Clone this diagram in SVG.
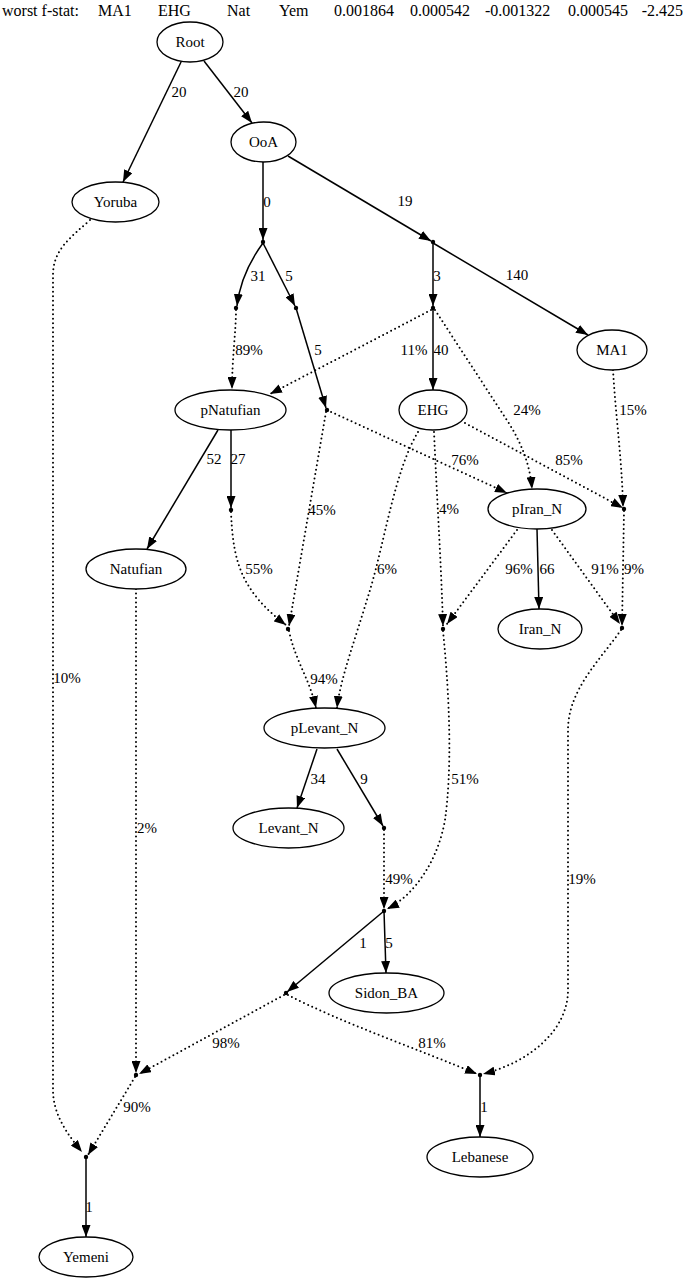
<svg xmlns="http://www.w3.org/2000/svg" width="685" height="1280" viewBox="0 0 685 1280" font-family="'Liberation Serif', 'Times New Roman', serif" font-size="15">
<defs>
<marker id="ah" viewBox="0 0 12 9" refX="12" refY="4.5" markerWidth="12" markerHeight="9" markerUnits="userSpaceOnUse" orient="auto">
<path d="M0,0 L12,4.5 L0,9 z" fill="#000" stroke="none"/>
</marker>
<style>
text{font-family:"Liberation Serif","Times New Roman",serif;font-size:15px;fill:#000}
.hd{font-size:16px}
.nl{text-anchor:middle}
.el{text-anchor:middle}
ellipse{fill:#fff;stroke:#000;stroke-width:1.3}
.pt{fill:#000;stroke:none}
.s{fill:none;stroke:#000;stroke-width:1.5;marker-end:url(#ah)}
.d{fill:none;stroke:#000;stroke-width:2;stroke-dasharray:0 4.5;stroke-linecap:round;marker-end:url(#ah)}
</style>
</defs>
<rect width="685" height="1280" fill="#fff"/>
<g id="header">
<text class="hd" x="2" y="16">worst f-stat:</text>
<text class="hd" x="98" y="16">MA1</text>
<text class="hd" x="158" y="16">EHG</text>
<text class="hd" x="227" y="16">Nat</text>
<text class="hd" x="279" y="16">Yem</text>
<text class="hd" x="334" y="16">0.001864</text>
<text class="hd" x="410" y="16">0.000542</text>
<text class="hd" x="485" y="16">-0.001322</text>
<text class="hd" x="568" y="16">0.000545</text>
<text class="hd" x="683" y="16" text-anchor="end">-2.425</text>
</g>
<g id="edges">
<path class="s" d="M182,60 L123,182"/>
<path class="s" d="M204,61 L252,123"/>
<path class="s" d="M263,162 L263,240"/>
<path class="s" d="M288,156 L431,241"/>
<path class="s" d="M433,243 L433,306"/>
<path class="s" d="M433,243 L588,335"/>
<path class="s" d="M263,243 C252,258 240,280 237,306"/>
<path class="s" d="M263,243 L295,306"/>
<path class="s" d="M296,308 L326,408"/>
<path class="s" d="M433,308 L433,390"/>
<path class="s" d="M218,430 L147,549"/>
<path class="s" d="M231,430 L231,508"/>
<path class="s" d="M537,529 L539,609"/>
<path class="s" d="M317,749 L297,808"/>
<path class="s" d="M337,749 L383,826"/>
<path class="s" d="M384,911 L287,992"/>
<path class="s" d="M384,911 L386,973"/>
<path class="s" d="M86,1157 L86,1237"/>
<path class="s" d="M480,1075 L480,1137"/>
<path class="d" d="M90,220 C70,238 53,250 53,275 L53,1090 C53,1115 68,1135 82,1152"/>
<path class="d" d="M136,589 L136,1073"/>
<path class="d" d="M236,310 C236,330 232,360 232,389"/>
<path class="d" d="M431,310 L270,394"/>
<path class="d" d="M435,310 L510,425 C522,445 530,465 532,489"/>
<path class="d" d="M327,410 L507,493"/>
<path class="d" d="M465,423 L623,508"/>
<path class="d" d="M613,370 C616,420 622,460 623,507"/>
<path class="d" d="M326,412 L289,626"/>
<path class="d" d="M231,512 C233,560 240,590 286,625"/>
<path class="d" d="M418,432 C395,470 385,540 370,590 C355,640 340,680 337,708"/>
<path class="d" d="M434,432 C437,500 441,560 443,626"/>
<path class="d" d="M517,530 L447,624"/>
<path class="d" d="M552,530 L620,624"/>
<path class="d" d="M624,511 L622,626"/>
<path class="d" d="M289,631 C295,660 310,680 316,708"/>
<path class="d" d="M443,631 C450,700 452,770 445,820 C438,860 415,895 387,909"/>
<path class="d" d="M384,830 L384,909"/>
<path class="d" d="M621,630 C600,660 568,690 568,730 L568,990 C568,1030 530,1062 483,1074"/>
<path class="d" d="M284,995 L139,1074"/>
<path class="d" d="M288,995 C340,1022 420,1050 477,1074"/>
<path class="d" d="M135,1077 L88,1155"/>
</g>
<g id="edge-labels">
<text class="el" x="179" y="97">20</text>
<text class="el" x="241" y="97">20</text>
<text class="el" x="267" y="207">0</text>
<text class="el" x="405" y="206">19</text>
<text class="el" x="437" y="281">3</text>
<text class="el" x="517" y="280">140</text>
<text class="el" x="258" y="281">31</text>
<text class="el" x="289" y="281">5</text>
<text class="el" x="318" y="355">5</text>
<text class="el" x="249" y="355">89%</text>
<text class="el" x="414" y="355">11%</text>
<text class="el" x="441" y="355">40</text>
<text class="el" x="527" y="415">24%</text>
<text class="el" x="633" y="415">15%</text>
<text class="el" x="214" y="464">52</text>
<text class="el" x="238" y="464">27</text>
<text class="el" x="465" y="465">76%</text>
<text class="el" x="569" y="465">85%</text>
<text class="el" x="322" y="515">45%</text>
<text class="el" x="449" y="514">4%</text>
<text class="el" x="259" y="574">55%</text>
<text class="el" x="387" y="574">6%</text>
<text class="el" x="519" y="574">96%</text>
<text class="el" x="547" y="574">66</text>
<text class="el" x="605" y="574">91%</text>
<text class="el" x="634" y="574">9%</text>
<text class="el" x="67" y="683">10%</text>
<text class="el" x="324" y="684">94%</text>
<text class="el" x="318" y="784">34</text>
<text class="el" x="364" y="784">9</text>
<text class="el" x="465" y="784">51%</text>
<text class="el" x="147" y="833">2%</text>
<text class="el" x="399" y="884">49%</text>
<text class="el" x="582" y="884">19%</text>
<text class="el" x="363" y="948">1</text>
<text class="el" x="389" y="948">5</text>
<text class="el" x="226" y="1048">98%</text>
<text class="el" x="432" y="1048">81%</text>
<text class="el" x="137" y="1112">90%</text>
<text class="el" x="484" y="1112">1</text>
<text class="el" x="89" y="1212">1</text>
</g>
<g id="Root"><ellipse cx="190" cy="42" rx="33" ry="20"/><text class="nl" x="190" y="47">Root</text></g>
<g id="OoA"><ellipse cx="263.5" cy="142" rx="32.5" ry="20"/><text class="nl" x="263.5" y="147">OoA</text></g>
<g id="Yoruba"><ellipse cx="115.5" cy="202" rx="43.5" ry="20"/><text class="nl" x="115.5" y="207">Yoruba</text></g>
<g id="MA1"><ellipse cx="612" cy="350" rx="35" ry="20"/><text class="nl" x="612" y="355">MA1</text></g>
<g id="EHG"><ellipse cx="433" cy="410" rx="34" ry="20"/><text class="nl" x="433" y="415">EHG</text></g>
<g id="pNatufian"><ellipse cx="230.5" cy="410" rx="55.5" ry="20"/><text class="nl" x="230.5" y="415">pNatufian</text></g>
<g id="pIran_N"><ellipse cx="537" cy="509" rx="49" ry="20"/><text class="nl" x="537" y="514">pIran_N</text></g>
<g id="Iran_N"><ellipse cx="540" cy="629" rx="42" ry="20"/><text class="nl" x="540" y="634">Iran_N</text></g>
<g id="Natufian"><ellipse cx="136" cy="569" rx="50" ry="20"/><text class="nl" x="136" y="574">Natufian</text></g>
<g id="pLevant_N"><ellipse cx="324.5" cy="728" rx="60.5" ry="20"/><text class="nl" x="324.5" y="733">pLevant_N</text></g>
<g id="Levant_N"><ellipse cx="288.5" cy="828" rx="55.5" ry="20"/><text class="nl" x="288.5" y="833">Levant_N</text></g>
<g id="Sidon_BA"><ellipse cx="386.5" cy="993" rx="57.5" ry="20"/><text class="nl" x="386.5" y="998">Sidon_BA</text></g>
<g id="Yemeni"><ellipse cx="86" cy="1257" rx="47" ry="20"/><text class="nl" x="86" y="1262">Yemeni</text></g>
<g id="Lebanese"><ellipse cx="480" cy="1157" rx="53" ry="20"/><text class="nl" x="480" y="1162">Lebanese</text></g>
<g id="points">
<circle class="pt" cx="263" cy="242" r="2.2"/>
<circle class="pt" cx="433" cy="242" r="2.2"/>
<circle class="pt" cx="433" cy="308" r="2.2"/>
<circle class="pt" cx="236" cy="308" r="2.2"/>
<circle class="pt" cx="296" cy="308" r="2.2"/>
<circle class="pt" cx="327" cy="410" r="2.2"/>
<circle class="pt" cx="231" cy="510" r="2.2"/>
<circle class="pt" cx="288" cy="629" r="2.2"/>
<circle class="pt" cx="443" cy="629" r="2.2"/>
<circle class="pt" cx="624" cy="509" r="2.2"/>
<circle class="pt" cx="622" cy="628" r="2.2"/>
<circle class="pt" cx="384" cy="828" r="2.2"/>
<circle class="pt" cx="384" cy="911" r="2.2"/>
<circle class="pt" cx="286" cy="993" r="2.2"/>
<circle class="pt" cx="136" cy="1075" r="2.2"/>
<circle class="pt" cx="86" cy="1157" r="2.2"/>
<circle class="pt" cx="480" cy="1075" r="2.2"/>
</g>
</svg>
